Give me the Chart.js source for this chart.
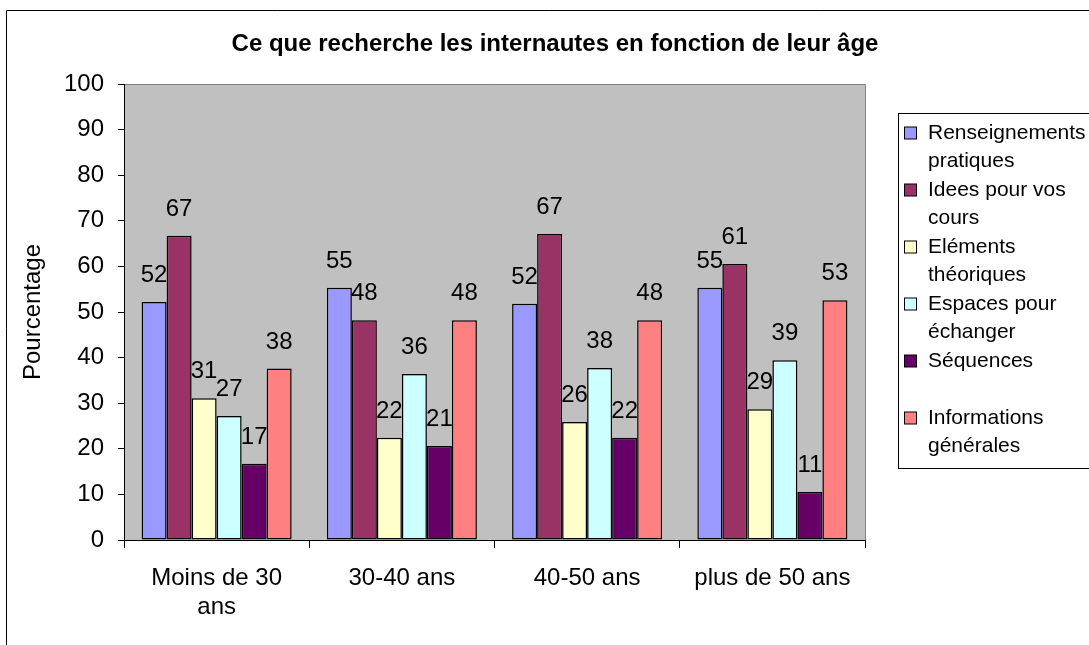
<!DOCTYPE html>
<html>
<head>
<meta charset="utf-8">
<script src="https://cdn.jsdelivr.net/npm/chart.js@4.4.1/dist/chart.umd.min.js"></script>
<style>
body { margin: 0; background: #fff; }
#cadre { width: 1089px; height: 645px; position: relative; }
</style>
</head>
<body>
<div id="cadre"><canvas id="graphique"></canvas></div>
<script>
// valeurs (en %)
var categories = [["Moins de 30", "ans"], "30-40 ans", "40-50 ans", "plus de 50 ans"];
var renseignements = [52.2, 55.3, 51.8, 55.3];
var idees = [66.7, 48.2, 67.1, 60.5];
var elements = [31.1, 22.4, 25.9, 28.7];
var espaces = [27.2, 36.4, 37.7, 39.4];
var sequences = [16.7, 20.6, 22.4, 10.5];
var informations = [37.6, 48.2, 48.2, 52.6];

var nomsSeries = ["Renseignements pratiques", "Idees pour vos cours", "Eléments théoriques",
    "Espaces pour échanger", "Séquences", "Informations générales"];
var lignesLegende = [["Renseignements", "pratiques"], ["Idees pour vos", "cours"], ["Eléments", "théoriques"],
    ["Espaces pour", "échanger"], ["Séquences", ""], ["Informations", "générales"]];
var couleurs = ["#9999FF", "#993366", "#FFFFCC", "#CCFFFF", "#660066", "#FF8080"];
var titre = "Ce que recherche les internautes en fonction de leur âge";
var police = "'Liberation Sans', Arial, sans-serif";

var valeurs = [renseignements, idees, elements, espaces, sequences, informations];
var jeux = [];
for (var i = 0; i < valeurs.length; i++) {
    jeux.push({
        label: nomsSeries[i],
        data: valeurs[i],
        backgroundColor: couleurs[i],
        borderColor: "#000",
        borderWidth: 1.5,
        borderSkipped: false,
        categoryPercentage: 0.81,
        barPercentage: 1
    });
}

// fond gris de la zone de tracé + cadre extérieur + titre
var fond = {
    id: "fond",
    beforeDraw: function (chart) {
        var ctx = chart.ctx, a = chart.chartArea;
        ctx.save();
        ctx.fillStyle = "#fff";
        ctx.fillRect(0, 0, chart.width, chart.height);
        ctx.fillStyle = "#C0C0C0";
        ctx.fillRect(a.left, a.top, a.right - a.left, a.bottom - a.top);
        ctx.strokeStyle = "#808080";
        ctx.lineWidth = 1;
        ctx.beginPath();
        ctx.moveTo(a.left, a.top + 0.5);
        ctx.lineTo(a.right + 0.5, a.top + 0.5);
        ctx.lineTo(a.right + 0.5, a.bottom);
        ctx.stroke();
        ctx.strokeStyle = "#000";
        ctx.beginPath();
        ctx.moveTo(6.5, chart.height + 2);
        ctx.lineTo(6.5, 10.5);
        ctx.lineTo(chart.width + 2, 10.5);
        ctx.stroke();
        ctx.fillStyle = "#000";
        ctx.font = "bold 24px " + police;
        ctx.textAlign = "center";
        ctx.textBaseline = "middle";
        ctx.fillText(titre, 555, 44);
        ctx.restore();
    }
};

// étiquettes de valeurs au-dessus des barres
var etiquettes = {
    id: "etiquettes",
    afterDatasetsDraw: function (chart) {
        var ctx = chart.ctx;
        ctx.save();
        ctx.fillStyle = "#000";
        ctx.font = "24px " + police;
        ctx.textAlign = "center";
        ctx.textBaseline = "alphabetic";
        chart.data.datasets.forEach(function (ds, i) {
            chart.getDatasetMeta(i).data.forEach(function (bar, j) {
                ctx.fillText(Math.round(ds.data[j]), bar.x, bar.y - 20);
            });
        });
        ctx.restore();
    }
};

// légende à droite, texte sur deux lignes
var legende = {
    id: "legende",
    afterDraw: function (chart) {
        var ctx = chart.ctx;
        var x0 = 898.5, y0 = 113.5;
        ctx.save();
        ctx.strokeStyle = "#000";
        ctx.lineWidth = 1;
        ctx.strokeRect(x0, y0, 220, 355);
        ctx.font = "21px " + police;
        ctx.textBaseline = "middle";
        ctx.textAlign = "left";
        for (var i = 0; i < lignesLegende.length; i++) {
            var y = 133 + i * 57;
            ctx.fillStyle = couleurs[i];
            ctx.fillRect(904.5, y - 6, 12, 12);
            ctx.strokeRect(904.5, y - 6, 12, 12);
            ctx.fillStyle = "#000";
            ctx.fillText(lignesLegende[i][0], 928, y);
            ctx.fillText(lignesLegende[i][1], 928, y + 28);
        }
        ctx.restore();
    }
};

new Chart(document.getElementById("graphique"), {
    type: "bar",
    data: { labels: categories, datasets: jeux },
    options: {
        responsive: true,
        maintainAspectRatio: false,
        animation: false,
        layout: { padding: { top: 84, right: 224, left: 10, bottom: 0 } },
        plugins: {
            legend: { display: false },
            title: { display: false },
            tooltip: { enabled: false }
        },
        scales: {
            x: {
                afterFit: function (s) { s.height = 105; },
                border: { color: "#000", width: 1 },
                grid: { offset: true, drawOnChartArea: false, drawTicks: true, tickLength: 8, color: "#000" },
                ticks: { color: "#000", padding: 16, maxRotation: 0, font: { family: police, size: 24, lineHeight: 1.2 } }
            },
            y: {
                min: 0,
                max: 100,
                afterFit: function (s) { s.width = 114; },
                border: { color: "#000", width: 1 },
                grid: { drawOnChartArea: false, drawTicks: true, tickLength: 6, color: "#000" },
                ticks: { stepSize: 10, color: "#000", padding: 14, font: { family: police, size: 24 } },
                title: {
                    display: true,
                    text: "Pourcentage",
                    color: "#000",
                    padding: { top: 9, bottom: 0 },
                    font: { family: police, size: 24 }
                }
            }
        }
    },
    plugins: [fond, etiquettes, legende]
});
</script>
</body>
</html>
